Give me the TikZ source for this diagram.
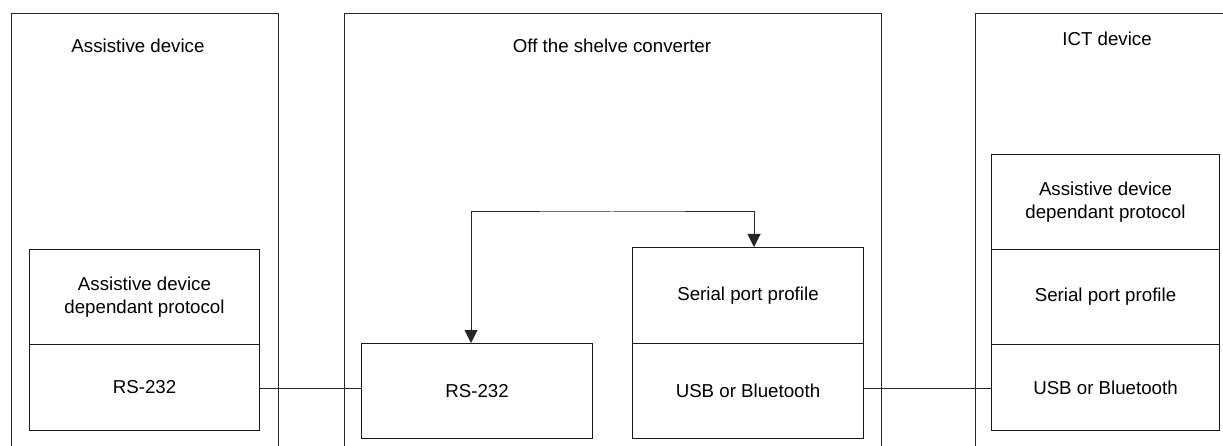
\documentclass[tikz,border=0pt]{standalone}
\usepackage{fontspec}
\setmainfont{Liberation Sans}
\usetikzlibrary{arrows.meta}
\begin{document}
\begin{tikzpicture}[x=1pt,y=-1pt,
  font=\fontsize{18.7}{23}\selectfont,
  frame/.style={draw=black!85, line width=1pt, anchor=north west, inner sep=0pt},
  cell/.style={draw=black!90, line width=1pt, anchor=north west, inner sep=0pt, align=center, text=black},
  title/.style={text=black, inner sep=0pt},
  wire/.style={draw=black!85, line width=1pt},
  link/.style={draw=black!85, line width=1pt, {Triangle[width=13pt,length=13pt]}-{Triangle[width=13pt,length=13pt]}}
]
\path[use as bounding box] (0,0) rectangle (1223,446);
\clip (0,0) rectangle (1223,446);

% containers (open towards the bottom / right edge)
\node[frame, minimum width=267pt, minimum height=460pt] (dev) at (11,13) {};
\node[frame, minimum width=537pt, minimum height=460pt] (conv) at (344,13) {};
\node[frame, minimum width=280pt, minimum height=460pt] (ict) at (975,13) {};

\node[title] (devT) at (138,46) {Assistive device};
\node[title] (convT) at (612,46) {Off the shelve converter};
\node[title] (ictT) at (1107,39) {ICT device};

% assistive device stack
\node[cell, minimum width=230pt, minimum height=95pt] (L1) at (29,249) {Assistive device\\dependant protocol};
\node[cell, minimum width=230pt, minimum height=86pt] (L2) at (29,344) {RS-232};

% converter
\node[cell, minimum width=231pt, minimum height=95pt] (M1) at (361,343) {RS-232};
\node[cell, minimum width=231pt, minimum height=96pt] (M2) at (632,247) {Serial port profile};
\node[cell, minimum width=231pt, minimum height=95pt] (M3) at (632,343) {USB or Bluetooth};

% ICT device stack
\node[cell, minimum width=228pt, minimum height=95pt] (R1) at (991,154) {Assistive device\\dependant protocol};
\node[cell, minimum width=228pt, minimum height=95pt] (R2) at (991,249) {Serial port profile};
\node[cell, minimum width=228pt, minimum height=86pt] (R3) at (991,344) {USB or Bluetooth};

% connections
\coordinate (rsline) at (0,388);
\draw[wire] (rsline -| L2.east) -- (rsline -| M1.west);
\draw[wire] (rsline -| M3.east) -- (rsline -| R3.west);
\coordinate (bridge) at (612,212);
\draw[link] ([xshift=-6pt]M1.north) |- (bridge) -| ([xshift=6pt]M2.north);
\end{tikzpicture}
\end{document}
